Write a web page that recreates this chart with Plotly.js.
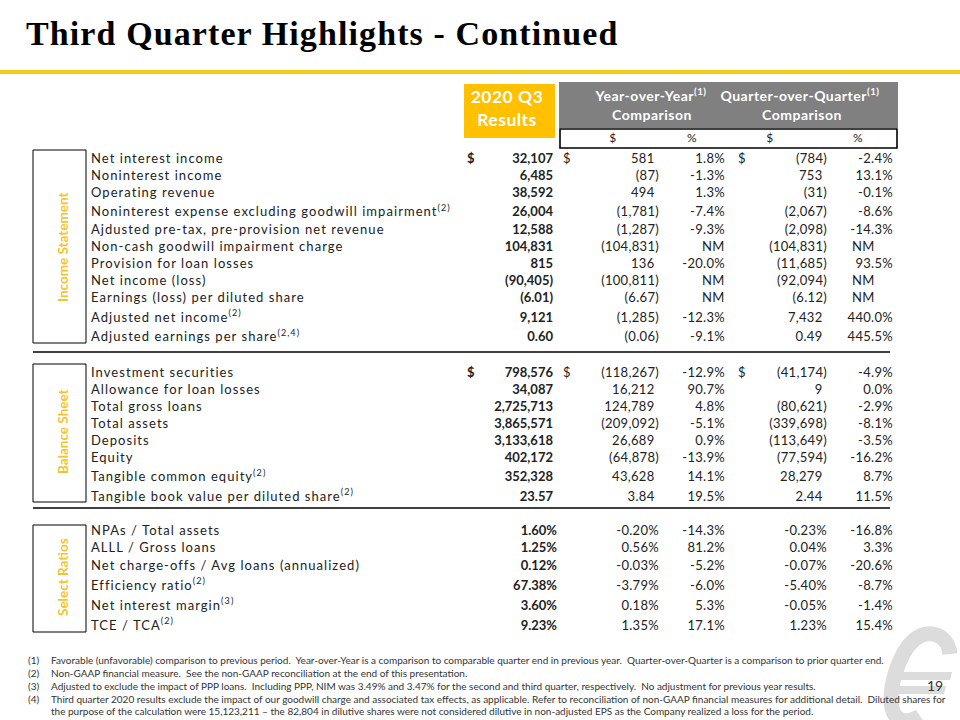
<!DOCTYPE html>
<html>
<head>
<meta charset="utf-8">
<script src="https://cdn.plot.ly/plotly-3.0.1.min.js"></script>
<style>
  html, body { margin: 0; padding: 0; background: #fff; }
  #chart { width: 960px; height: 720px; }
  g[class*="tracelab"] text { letter-spacing: 1.05px; }
  g[class*="tracenum"] text { letter-spacing: 0.3px; }
  g[class*="tracebold"] text { letter-spacing: 0px; }
  g[class*="tracehdr"] text { letter-spacing: 0.5px; }
  g[class*="tracettl"] text { letter-spacing: 1.1px; }
</style>
</head>
<body>
<div id="chart"></div>
<script>
// ---------------- DATA ----------------
const titleText = "Third Quarter Highlights - Continued";
const sectionNames = ["Income Statement", "Balance Sheet", "Select Ratios"];
const headerQ3 = ["2020 Q3", "Results"];
const headerYoY = ["Year-over-Year", "Comparison"];
const headerQoQ = ["Quarter-over-Quarter", "Comparison"];
const subHeaders = ["$", "%", "$", "%"];

// Income statement
const isLabels = ["Net interest income", "Noninterest income", "Operating revenue",
  "Noninterest expense excluding goodwill impairment", "Ajdusted pre-tax, pre-provision net revenue",
  "Non-cash goodwill impairment charge", "Provision for loan losses", "Net income (loss)",
  "Earnings (loss) per diluted share", "Adjusted net income", "Adjusted earnings per share"];
const isNotes = ["", "", "", "2", "", "", "", "", "", "2", "2,4"];
const isDecimals = [0, 0, 0, 0, 0, 0, 0, 0, 2, 0, 2];
const isQ3 = [32107, 6485, 38592, 26004, 12588, 104831, 815, -90405, -6.01, 9121, 0.60];
const isYoY = [581, -87, 494, -1781, -1287, -104831, 136, -100811, -6.67, -1285, -0.06];
const isYoYPct = [1.8, -1.3, 1.3, -7.4, -9.3, null, -20.0, null, null, -12.3, -9.1];
const isQoQ = [-784, 753, -31, -2067, -2098, -104831, -11685, -92094, -6.12, 7432, 0.49];
const isQoQPct = [-2.4, 13.1, -0.1, -8.6, -14.3, null, 93.5, null, null, 440.0, 445.5];

// Balance sheet
const bsLabels = ["Investment securities", "Allowance for loan losses", "Total gross loans",
  "Total assets", "Deposits", "Equity", "Tangible common equity", "Tangible book value per diluted share"];
const bsNotes = ["", "", "", "", "", "", "2", "2"];
const bsDecimals = [0, 0, 0, 0, 0, 0, 0, 2];
const bsQ3 = [798576, 34087, 2725713, 3865571, 3133618, 402172, 352328, 23.57];
const bsYoY = [-118267, 16212, 124789, -209092, 26689, -64878, 43628, 3.84];
const bsYoYPct = [-12.9, 90.7, 4.8, -5.1, 0.9, -13.9, 14.1, 19.5];
const bsQoQ = [-41174, 9, -80621, -339698, -113649, -77594, 28279, 2.44];
const bsQoQPct = [-4.9, 0.0, -2.9, -8.1, -3.5, -16.2, 8.7, 11.5];

// Select ratios (%)
const rLabels = ["NPAs / Total assets", "ALLL / Gross loans", "Net charge-offs / Avg loans (annualized)",
  "Efficiency ratio", "Net interest margin", "TCE / TCA"];
const rNotes = ["", "", "", "2", "3", "2"];
const rQ3 = [1.60, 1.25, 0.12, 67.38, 3.60, 9.23];
const rYoY = [-0.20, 0.56, -0.03, -3.79, 0.18, 1.35];
const rYoYPct = [-14.3, 81.2, -5.2, -6.0, 5.3, 17.1];
const rQoQ = [-0.23, 0.04, -0.07, -5.40, -0.05, 1.23];
const rQoQPct = [-16.8, 3.3, -20.6, -8.7, -1.4, 15.4];

const footnotes = [
  ["(1)", "Favorable (unfavorable) comparison to previous period.  Year-over-Year is a comparison to comparable quarter end in previous year.  Quarter-over-Quarter is a comparison to prior quarter end."],
  ["(2)", "Non-GAAP financial measure.  See the non-GAAP reconciliation at the end of this presentation."],
  ["(3)", "Adjusted to exclude the impact of PPP loans.  Including PPP, NIM was 3.49% and 3.47% for the second and third quarter, respectively.  No adjustment for previous year results."],
  ["(4)", "Third quarter 2020 results exclude the impact of our goodwill charge and associated tax effects, as applicable. Refer to reconciliation of non-GAAP financial measures for additional detail.  Diluted shares for"],
  ["", "the purpose of the calculation were 15,123,211 – the 82,804 in dilutive shares were not considered dilutive in non-adjusted EPS as the Company realized a loss for the period."]
];
const pageNumber = "19";

// ---------------- FORMATTING ----------------
function fmtAcct(v, d) {
  const s = Math.abs(v).toLocaleString('en-US', {minimumFractionDigits: d, maximumFractionDigits: d});
  return v < 0 ? '(' + s + ')' : s;
}
function fmtPct1(v) { return v === null ? 'NM' : v.toFixed(1) + '%'; }
function fmtPct2(v) { return v.toFixed(2) + '%'; }
function withNote(label, note) { return note ? label + '<sup>(' + note + ')</sup>' : label; }

// ---------------- LAYOUT CONSTANTS ----------------
const FONT = 'Lato, "Open Sans", sans-serif';
const TXT = '#222222';
const GOLD = '#FFC000';
const LABEL_X = 91;
const COL = { q3: 553, q3pct: 557, yoy: 659, yoyPct: 725, yoyNM: 702, qoq: 827, qoqPct: 893, qoqNM: 852,
              dQ3: 467, dYoY: 563, dQoQ: 738 };

function rowYs(startY, notes, base) {
  const ys = [];
  let y = startY;
  notes.forEach((n, i) => {
    if (i > 0) y += base + (n ? 2.5 : 0) + (notes[i - 1] && !n ? 1 : 0);
    ys.push(y);
  });
  return ys;
}
const isY = rowYs(159.5, isNotes, 17);
const bsY = rowYs(373.5, bsNotes, 17);
const rY = rowYs(531.5, rNotes, 17.5);

const traces = [];
let uidN = 0;
function textTrace(kind, xs, ys, texts, pos, opts) {
  opts = opts || {};
  traces.push({
    type: 'scatter', mode: 'text', x: xs, y: ys, text: texts, textposition: pos,
    uid: kind + (uidN++),
    textfont: { family: opts.family || FONT, size: opts.size || 13, color: opts.color || TXT,
                weight: opts.bold ? 'bold' : 'normal' },
    hoverinfo: 'skip', showlegend: false, cliponaxis: false
  });
}

function accountingCol(values, decimals, ys, xr, padPositive, bold) {
  const texts = values.map((v, i) => fmtAcct(v, decimals[i]));
  const xs = values.map(v => (v < 0 || !padPositive) ? xr : xr - 4.5);
  textTrace(bold ? 'bold' : 'num', xs, ys, texts, 'middle left', { bold: bold });
}
function pctCol(values, ys, xr, xnm) {
  const texts = values.map(fmtPct1);
  const xs = values.map(v => v === null ? xnm : xr);
  const pos = values.map(v => v === null ? 'middle right' : 'middle left');
  textTrace('num', xs, ys, texts, pos);
}

// Title
textTrace('ttl', [26], [36], [titleText], 'middle right',
  { family: '"Liberation Serif", "Times New Roman", serif', size: 34, color: '#000', bold: true });

// Header texts
const hdrFont = { size: 14, color: '#fff', bold: true };
textTrace('hdr', [507, 507], [99, 122], headerQ3, 'middle center', { size: 17.5, color: '#fff', bold: true });
textTrace('hdr', [651, 800], [97, 97], [headerYoY[0] + '<sup>(1)</sup>', headerQoQ[0] + '<sup>(1)</sup>'], 'middle center', hdrFont);
textTrace('hdr', [652, 802], [116, 116], [headerYoY[1], headerQoQ[1]], 'middle center', hdrFont);
textTrace('num', [613, 692, 770, 858], [139, 139, 139, 139], subHeaders, 'middle center', { size: 12 });

// Labels
textTrace('lab', isY.map(() => LABEL_X), isY, isLabels.map((l, i) => withNote(l, isNotes[i])), 'middle right');
textTrace('lab', bsY.map(() => LABEL_X), bsY, bsLabels.map((l, i) => withNote(l, bsNotes[i])), 'middle right');
textTrace('lab', rY.map(() => LABEL_X), rY, rLabels.map((l, i) => withNote(l, rNotes[i])), 'middle right');

// Income statement values
accountingCol(isQ3, isDecimals, isY, COL.q3, false, true);
accountingCol(isYoY, isDecimals, isY, COL.yoy, true, false);
pctCol(isYoYPct, isY, COL.yoyPct, COL.yoyNM);
accountingCol(isQoQ, isDecimals, isY, COL.qoq, true, false);
pctCol(isQoQPct, isY, COL.qoqPct, COL.qoqNM);

// Balance sheet values
accountingCol(bsQ3, bsDecimals, bsY, COL.q3, false, true);
accountingCol(bsYoY, bsDecimals, bsY, COL.yoy, true, false);
pctCol(bsYoYPct, bsY, COL.yoyPct, COL.yoyNM);
accountingCol(bsQoQ, bsDecimals, bsY, COL.qoq, true, false);
pctCol(bsQoQPct, bsY, COL.qoqPct, COL.qoqNM);

// Ratio values
textTrace('bold', rY.map(() => COL.q3pct), rY, rQ3.map(fmtPct2), 'middle left', { bold: true });
textTrace('num', rY.map(() => COL.yoy), rY, rYoY.map(fmtPct2), 'middle left');
pctCol(rYoYPct, rY, COL.yoyPct, COL.yoyNM);
textTrace('num', rY.map(() => COL.qoq), rY, rQoQ.map(fmtPct2), 'middle left');
pctCol(rQoQPct, rY, COL.qoqPct, COL.qoqNM);

// Dollar signs on first rows
textTrace('bold', [COL.dQ3, COL.dQ3], [isY[0], bsY[0]], ['$', '$'], 'middle right', { bold: true });
textTrace('num', [COL.dYoY, COL.dQoQ, COL.dYoY, COL.dQoQ], [isY[0], isY[0], bsY[0], bsY[0]], ['$', '$', '$', '$'], 'middle right');

// ---------------- SHAPES ----------------
const LOGO = '#DCDCDC';
const shapes = [
  { type: 'rect', xref: 'x', yref: 'y', layer: 'below', x0: 0, x1: 960, y0: 70, y1: 74, fillcolor: '#F7C91A', line: { width: 0 } },
  { type: 'rect', xref: 'x', yref: 'y', layer: 'below', x0: 464, x1: 555, y0: 84, y1: 138, fillcolor: GOLD, line: { width: 0 } },
  { type: 'rect', xref: 'x', yref: 'y', layer: 'below', x0: 559, x1: 898, y0: 82, y1: 128, fillcolor: '#808080', line: { width: 0 } },
  { type: 'rect', xref: 'x', yref: 'y', layer: 'below', x0: 560, x1: 897, y0: 129, y1: 148, fillcolor: '#FFFFFF', line: { color: '#000', width: 1.6 } },
  { type: 'rect', xref: 'x', yref: 'y', layer: 'below', x0: 33, x1: 86, y0: 150, y1: 343, line: { color: '#000', width: 1 } },
  { type: 'rect', xref: 'x', yref: 'y', layer: 'below', x0: 33, x1: 86, y0: 364, y1: 502, line: { color: '#000', width: 1 } },
  { type: 'rect', xref: 'x', yref: 'y', layer: 'below', x0: 33, x1: 86, y0: 525, y1: 632, line: { color: '#000', width: 1 } },
  { type: 'line', xref: 'x', yref: 'y', layer: 'below', x0: 33, x1: 890, y0: 352, y1: 352, line: { color: '#000', width: 1.4 } },
  { type: 'line', xref: 'x', yref: 'y', layer: 'below', x0: 33, x1: 890, y0: 508, y1: 508, line: { color: '#000', width: 1.4 } },
  // watermark logo
  { type: 'path', xref: 'x', yref: 'y', layer: 'below',
    path: 'M 950 654 C 948 634, 928 628, 914 640 C 898 654, 888 690, 892 708 C 895 722, 908 724, 920 716',
    line: { color: LOGO, width: 15 } },
  { type: 'path', xref: 'x', yref: 'y', layer: 'below',
    path: 'M 890 672 L 952 672 L 950 680 L 888 680 Z', fillcolor: LOGO, line: { width: 0 } },
  { type: 'path', xref: 'x', yref: 'y', layer: 'below',
    path: 'M 886 686 L 946 686 L 944 694 L 884 694 Z', fillcolor: LOGO, line: { width: 0 } }
];

// ---------------- ANNOTATIONS ----------------
const annotations = [];
function ann(x, y, text, opts) {
  annotations.push(Object.assign({ xref: 'x', yref: 'y', x: x, y: y, text: text, showarrow: false,
    xanchor: 'center', yanchor: 'middle', font: { family: FONT, size: 13, color: TXT } }, opts || {}));
}
const secY = [247, 432, 577];
sectionNames.forEach((s, i) => ann(63, secY[i], s, { textangle: -90, font: { family: FONT, size: 13.5, color: '#F4C430', weight: 'bold' } }));

const fnY = [660, 673, 686, 699, 711];
footnotes.forEach((f, i) => {
  if (f[0]) ann(26, fnY[i], f[0], { xanchor: 'left', font: { family: FONT, size: 10, color: '#333' } });
  ann(49, fnY[i], f[1], { xanchor: 'left', font: { family: FONT, size: 10, color: '#333' } });
});
ann(945, 685, pageNumber, { xanchor: 'right', font: { family: FONT, size: 14, color: '#333' } });

const layout = {
  width: 960, height: 720, margin: { l: 0, r: 0, t: 0, b: 0 },
  paper_bgcolor: '#fff', plot_bgcolor: '#fff', showlegend: false,
  xaxis: { range: [0, 960], visible: false, fixedrange: true },
  yaxis: { range: [720, 0], visible: false, fixedrange: true },
  shapes: shapes, annotations: annotations
};
Plotly.newPlot('chart', traces, layout, { staticPlot: true, displayModeBar: false });
</script>
</body>
</html>
